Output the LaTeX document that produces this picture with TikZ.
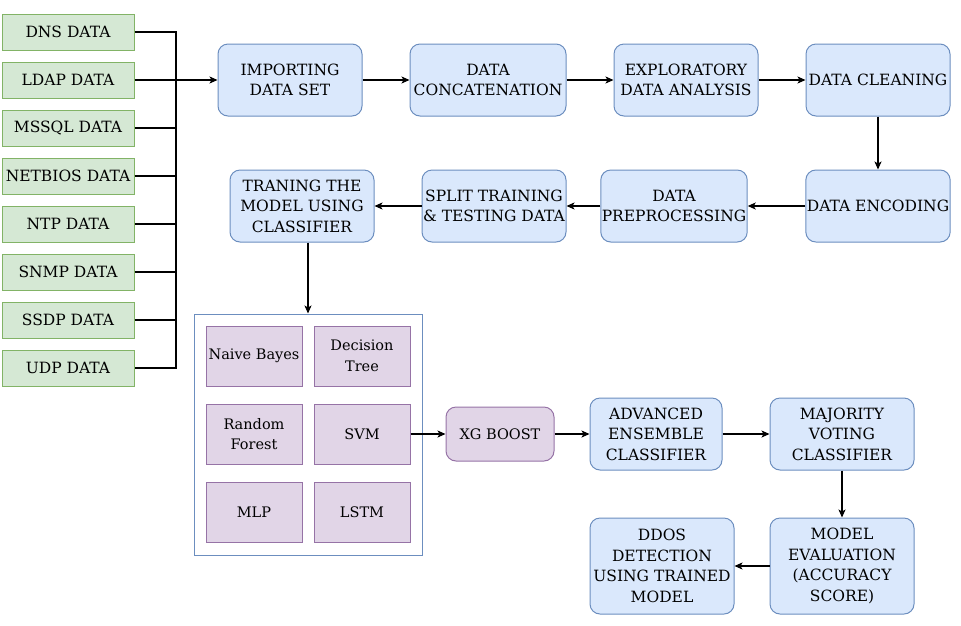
\documentclass[tikz,border=0pt]{standalone}
\usepackage{fontspec}
\setmainfont{DejaVu Serif}
\newfontfamily\boxfont{DejaVu Serif}
\usepackage{tikz}
\usetikzlibrary{shapes.geometric, arrows, arrows.meta, positioning, calc}
\definecolor{mGreenFill}{HTML}{D5E8D4}
\definecolor{mGreenLine}{HTML}{82B366}
\definecolor{mBlueFill}{HTML}{DAE8FC}
\definecolor{mBlueLine}{HTML}{6C8EBF}
\definecolor{mPurpleFill}{HTML}{E1D5E7}
\definecolor{mPurpleLine}{HTML}{9673A6}

\begin{document}
\begin{tikzpicture}[
    x=1pt, y=-1pt,
    every node/.style={font=\boxfont\fontsize{15.5}{20.5}\selectfont, align=center, inner sep=1pt},
    src/.style={rectangle, draw=mGreenLine, fill=mGreenFill, line width=1pt, minimum width=132pt, minimum height=36pt},
    box/.style={rectangle, draw=mBlueLine, fill=mBlueFill, line width=1pt, rounded corners=10pt, minimum width=144pt, minimum height=72pt},
    algo/.style={rectangle, draw=mPurpleLine, fill=mPurpleFill, line width=1pt, minimum width=96pt, minimum height=60pt, font=\boxfont\fontsize{14.5}{20.5}\selectfont},
    arrow/.style={line width=1.2pt,-{Stealth[length=8pt,width=7pt,inset=2pt]},black},
    wire/.style={line width=1.2pt,black}
]
    \useasboundingbox (0,0) rectangle (961,625);

    % data sources
    \node[src] (dns) at (68,32) {DNS DATA};
    \node[src] (ldap) at (68,80) {LDAP DATA};
    \node[src] (mssql) at (68,128) {MSSQL DATA};
    \node[src] (netbios) at (68,176) {NETBIOS DATA};
    \node[src] (ntp) at (68,224) {NTP DATA};
    \node[src] (snmp) at (68,272) {SNMP DATA};
    \node[src] (ssdp) at (68,320) {SSDP DATA};
    \node[src] (udp) at (68,368) {UDP DATA};
    \coordinate (bus) at (176,32);

    % pipeline
    \node[box] (imp) at (290,80) {IMPORTING\\DATA SET};
    \node[box, minimum width=156pt] (concat) at (488,80) {DATA\\CONCATENATION};
    \node[box] (eda) at (686,80) {EXPLORATORY\\DATA ANALYSIS};
    \node[box] (clean) at (878,80) {DATA CLEANING};
    \node[box] (enc) at (878,206) {DATA ENCODING};
    \node[box] (prep) at (674,206) {DATA\\PREPROCESSING};
    \node[box] (split) at (494,206) {SPLIT TRAINING\\\& TESTING DATA};
    \node[box] (train) at (302,206) {TRANING THE\\MODEL USING\\CLASSIFIER};

    % classifiers
    \node[rectangle, draw=mBlueLine, fill=white, line width=1pt, minimum width=228pt, minimum height=241pt] (models) at (308,434.5) {};
    \node[algo] (nb) at (254,356) {Naive Bayes};
    \node[algo] (dt) at (362,356) {Decision\\Tree};
    \node[algo] (rf) at (254,434) {Random\\Forest};
    \node[algo] (svm) at (362,434) {SVM};
    \node[algo] (mlp) at (254,512) {MLP};
    \node[algo] (lstm) at (362,512) {LSTM};

    \node[algo, rounded corners=10pt, minimum width=108pt, minimum height=54pt] (xg) at (500,434) {XG BOOST};
    \node[box, minimum width=132pt] (adv) at (656,434) {ADVANCED\\ENSEMBLE\\CLASSIFIER};
    \node[box] (maj) at (842,434) {MAJORITY\\VOTING\\CLASSIFIER};
    \node[box, minimum height=96pt] (eval) at (842,566) {MODEL\\EVALUATION\\(ACCURACY\\SCORE)};
    \node[box, minimum height=96pt] (ddos) at (662,566) {DDOS\\DETECTION\\USING TRAINED\\MODEL};

    % wiring
    \draw[wire] (dns.east) -- (dns.east -| bus) -- (udp.east -| bus) -- (udp.east);
    \foreach \n in {mssql, netbios, ntp, snmp, ssdp}
        \draw[wire] (\n.east) -- (\n.east -| bus);
    \draw[arrow] (ldap) -- (imp);
    \draw[arrow] (imp) -- (concat);
    \draw[arrow] (concat) -- (eda);
    \draw[arrow] (eda) -- (clean);
    \draw[arrow] (clean) -- (enc);
    \draw[arrow] (enc) -- (prep);
    \draw[arrow] (prep) -- (split);
    \draw[arrow] (split) -- (train);
    \draw[arrow] (train.south -| models.north) -- (models.north);
    \draw[arrow] (svm) -- (xg);
    \draw[arrow] (xg) -- (adv);
    \draw[arrow] (adv) -- (maj);
    \draw[arrow] (maj) -- (eval);
    \draw[arrow] (eval) -- (ddos);
\end{tikzpicture}
\end{document}
